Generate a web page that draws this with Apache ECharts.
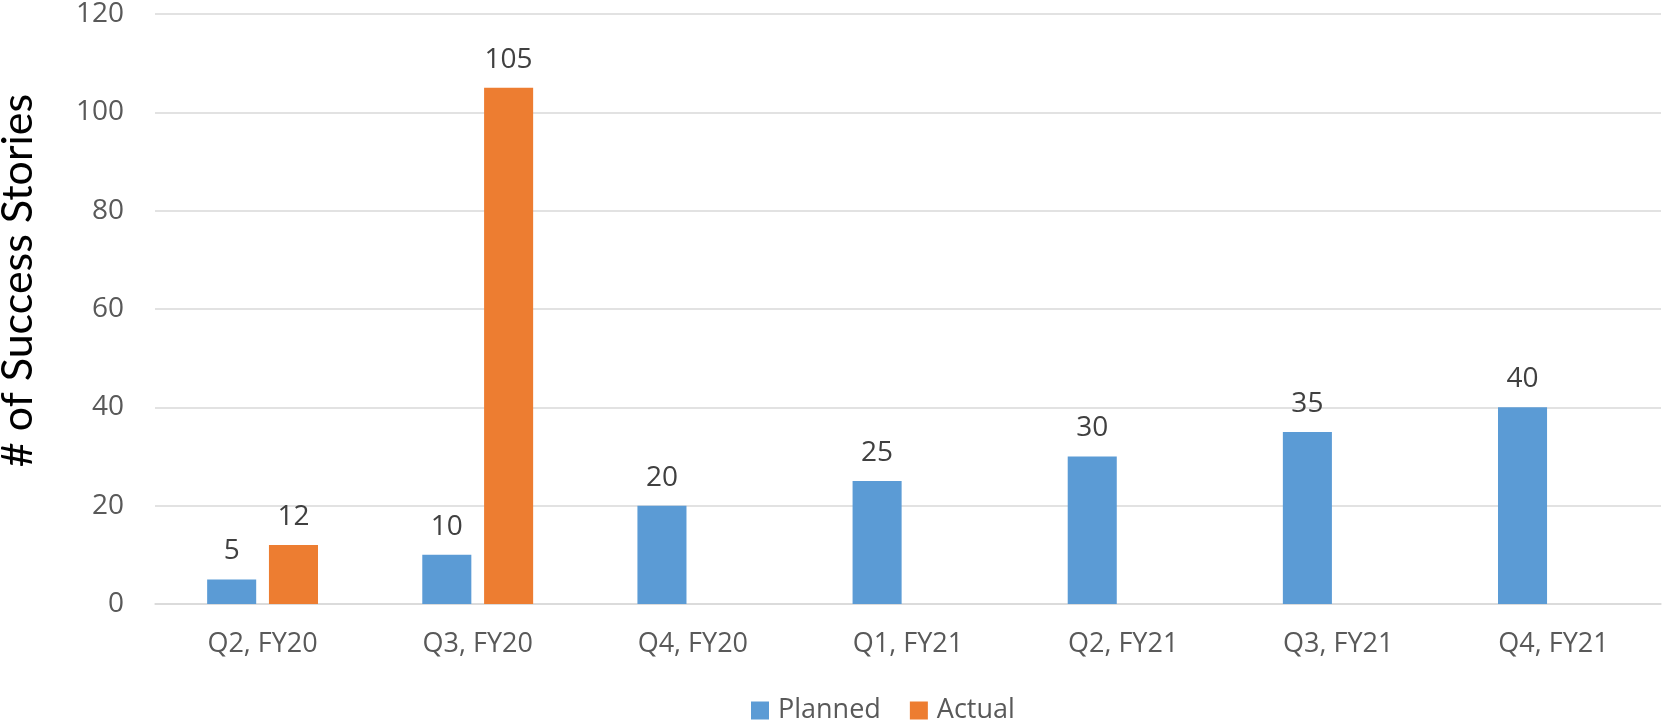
<!DOCTYPE html>
<html>
<head>
<meta charset="utf-8">
<script src="https://cdn.jsdelivr.net/npm/echarts@6/dist/echarts.min.js"></script>
<style>html,body{margin:0;padding:0;background:#fff}#c{width:1663px;height:721px}</style>
</head>
<body>
<div id="c"></div>
<script>
const categories = ['Q2, FY20', 'Q3, FY20', 'Q4, FY20', 'Q1, FY21', 'Q2, FY21', 'Q3, FY21', 'Q4, FY21'];
const planned = [5, 10, 20, 25, 30, 35, 40];
const actual = [12, 105, null, null, null, null, null];
const yTicks = { min: 0, max: 120, interval: 20 };
const yTitle = '# of Success Stories';

const chart = echarts.init(document.getElementById('c'));
const font = '"Open Sans", "DejaVu Sans", sans-serif';
chart.setOption({
  animation: false,
  grid: { left: 155, right: 2, top: 14, bottom: 117, containLabel: false, outerBoundsMode: 'none' },
  legend: {
    data: ['Planned', 'Actual'],
    left: 746, top: 692,
    itemWidth: 18, itemHeight: 18, itemGap: 29,
    icon: 'rect',
    textStyle: { color: '#595959', fontSize: 27, fontFamily: font, padding: [0, 0, 0, 4] }
  },
  xAxis: {
    type: 'category',
    data: categories,
    axisLine: { show: true, lineStyle: { color: '#d9d9d9', width: 1.5 } },
    axisTick: { show: false },
    axisLabel: { color: '#595959', fontSize: 27, fontFamily: font, margin: 27 }
  },
  yAxis: {
    type: 'value',
    min: yTicks.min, max: yTicks.max, interval: yTicks.interval,
    name: yTitle,
    nameLocation: 'middle',
    nameGap: 115,
    nameTextStyle: { color: '#000', fontSize: 43, fontFamily: 'Lato, "Open Sans", sans-serif', padding: [0, 0, 0, 57] },
    axisLine: { show: false },
    axisTick: { show: false },
    splitLine: { lineStyle: { color: '#d9d9d9', width: 1.5 } },
    axisLabel: { color: '#595959', fontSize: 28, fontFamily: font, margin: 31 }
  },
  series: [
    {
      name: 'Planned', type: 'bar', data: planned,
      barWidth: '22.8%', barGap: '26%',
      itemStyle: { color: '#5b9bd5' },
      label: { show: true, position: 'top', distance: 14, color: '#404040', fontSize: 28, fontFamily: font }
    },
    {
      name: 'Actual', type: 'bar', data: actual,
      barWidth: '22.8%',
      itemStyle: { color: '#ed7d31' },
      label: { show: true, position: 'top', distance: 14, color: '#404040', fontSize: 28, fontFamily: font }
    }
  ]
});
</script>
</body>
</html>
